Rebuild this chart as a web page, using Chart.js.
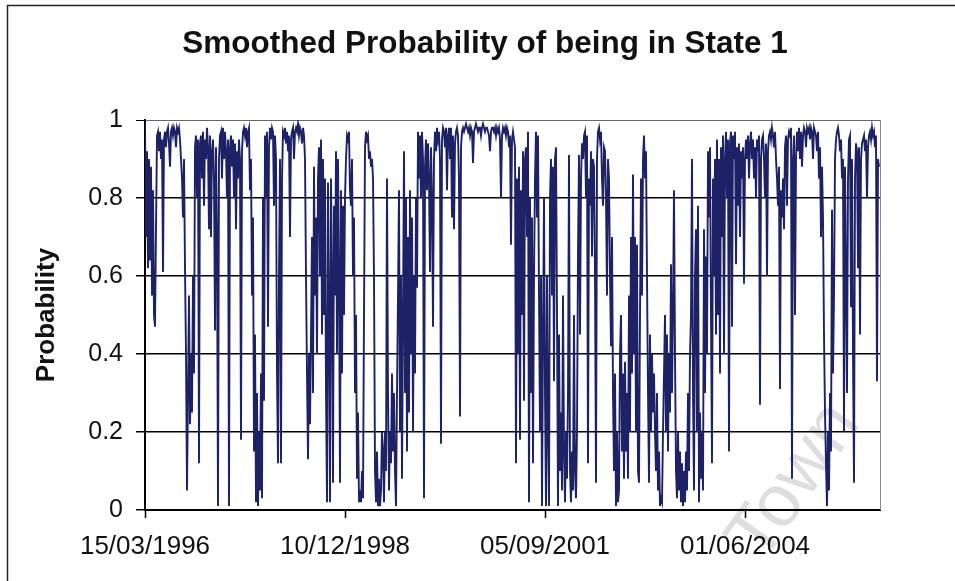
<!DOCTYPE html>
<html>
<head>
<meta charset="utf-8">
<title>Smoothed Probability of being in State 1</title>
<script src="https://cdn.jsdelivr.net/npm/chart.js@4.4.1/dist/chart.umd.min.js"></script>
<style>
  html, body { margin: 0; padding: 0; background: #fff; }
  #wrap { position: relative; width: 955px; height: 581px; overflow: hidden; }
</style>
</head>
<body>
<div id="wrap"><canvas id="probChart" width="955" height="581"></canvas></div>
<script>
const chartTitle = 'Smoothed Probability of being in State 1';
const yTitle = 'Probability';
// x axis: days since 15/03/1996, a label every 1000 days
const dateTicks = ['15/03/1996', '10/12/1998', '05/09/2001', '01/06/2004'];
const tickEveryDays = 1000;
const yTickLabels = ['0', '0.2', '0.4', '0.6', '0.8', '1'];
const sampleDays = 5;
const lastDay = 3675;

// smoothed probability, one reading every 5 days
const smoothedProb = [
  0.99,0.7,0.92,0.62,0.9,0.64,0.88,0.55,0.82,0.5,0.47,0.72,0.96,
  0.97,0.92,0.97,0.9,0.95,0.61,0.95,0.97,0.93,0.97,0.98,0.94,0.88,0.97,0.98,0.96,0.98,0.97,0.93,0.98,0.97,0.98,0.95,0.9,
  0.85,0.75,0.9,0.62,0.4,0.05,0.3,0.55,0.22,0.4,0.25,0.6,0.35,0.93,0.96,0.8,0.95,0.12,0.94,
  0.96,0.85,0.97,0.78,0.95,0.9,0.98,0.93,0.72,0.96,0.7,0.92,
  0.95,0.85,0.46,0.93,0.7,0.01,0.9,0.96,0.97,0.85,0.98,0.9,0.97,0.92,0.8,0.95,0.01,0.93,0.96,0.88,
  0.95,0.8,0.94,0.72,0.92,0.85,0.95,0.9,0.18,0.92,0.97,0.98,0.96,0.98,0.93,0.97,0.98,0.82,
  0.9,0.55,0.75,0.15,0.45,0.02,0.3,0.01,0.2,0.05,0.35,0.03,
  0.8,0.28,0.96,0.8,0.97,0.47,0.93,0.98,0.95,0.98,0.97,0.78,0.96,0.9,0.35,0.12,0.6,0.9,0.12,0.85,0.97,0.96,0.98,0.94,0.97,0.92,0.96,0.7,
  0.95,0.97,0.98,0.9,0.97,0.98,0.97,0.99,0.96,0.98,0.97,0.94,0.98,0.96,0.9,
  0.6,0.35,0.13,0.4,0.22,0.45,0.7,0.3,0.88,0.55,0.75,0.4,0.85,
  0.93,0.6,0.95,0.45,0.9,0.5,0.85,0.3,0.02,0.84,0.5,0.02,0.85,0.6,0.07,0.78,0.55,0.92,0.4,0.9,0.6,0.07,0.82,0.35,0.78,0.5,0.8,
  0.9,0.96,0.95,0.97,0.82,0.78,0.9,0.6,0.75,0.3,0.5,0.08,0.25,0.02,0.05,
  0.02,0.1,0.03,0.5,0.93,0.97,0.95,0.96,0.9,0.92,0.88,0.9,0.85,0.6,0.1,0.02,0.15,0.01,0.08,0.01,0.05,0.2,
  0.15,0.02,0.2,0.1,0.85,0.3,0.05,0.2,0.12,0.35,0.15,0.3,0.1,0.01,
  0.3,0.55,0.82,0.2,0.6,0.08,0.5,0.92,0.3,0.8,0.15,0.7,0.25,0.82,0.4,0.75,0.2,0.6,0.35,0.8,
  0.57,0.97,0.85,0.96,0.8,0.97,0.9,0.03,0.88,0.95,0.82,0.94,0.85,0.61,0.93,0.8,0.47,0.9,0.97,0.92,0.98,0.95,0.97,0.9,
  0.17,0.95,0.98,0.97,0.93,0.98,0.82,0.96,0.98,0.9,0.98,0.75,0.96,0.72,0.94,0.97,0.98,0.96,0.85,0.24,0.93,0.97,
  0.98,0.97,0.98,0.99,0.98,0.97,0.98,0.96,0.98,0.97,
  0.89,0.97,0.98,0.99,0.98,0.97,0.98,0.98,0.96,0.98,
  0.99,0.98,0.97,0.98,0.98,0.97,0.96,0.92,0.97,0.98,
  0.98,0.97,0.98,0.96,0.98,0.97,0.98,0.95,0.8,0.96,
  0.98,0.97,0.98,0.96,0.98,0.97,0.93,0.96,0.68,0.95,
  0.97,
  0.95,0.93,0.12,0.85,0.4,0.88,0.18,0.82,0.5,0.92,0.28,0.9,0.93,0.7,0.97,0.02,0.8,0.3,0.75,0.12,0.6,0.85,
  0.97,0.75,0.96,0.55,0.2,0.6,0.01,0.45,0.8,0.3,0.01,0.6,0.2,0.01,0.8,0.9,0.55,0.88,0.33,0.9,0.93,0.5,0.01,0.45,
  0.1,0.25,0.05,0.55,0.15,0.02,0.2,0.08,0.3,0.91,0.1,0.02,0.15,0.05,0.5,0.1,0.03,0.2,0.66,0.91,0.45,0.85,0.94,0.9,
  0.96,0.97,0.8,0.96,0.12,0.85,0.78,0.92,0.65,0.9,0.88,0.6,0.07,0.9,0.97,0.98,0.95,0.97,0.85,0.78,0.93,0.92,0.8,0.55,0.9,0.85,0.6,0.42,0.7,
  0.3,0.1,0.35,0.01,0.2,0.02,0.05,0.4,0.5,0.15,0.35,0.08,0.38,0.15,0.3,0.08,0.55,0.2,0.7,0.35,0.86,0.4,
  0.7,0.2,0.68,0.1,0.07,0.5,0.85,0.55,0.9,0.96,0.85,0.92,0.6,0.3,0.07,0.45,0.2,0.4,0.25,0.35,0.2,0.1,0.3,0.05,0.15,0.01,0.03,0.02,0.2,
  0.35,0.5,0.2,0.45,0.15,0.4,0.25,0.63,0.3,0.5,0.82,0.4,0.1,0.03,0.2,0.05,0.15,0.02,0.12,0.01,0.1,0.02,0.15,0.05,0.3,0.1,0.4,
  0.5,0.9,0.3,0.05,0.6,0.72,0.2,0.78,0.02,0.25,0.08,0.2,0.05,0.72,0.3,0.65,0.4,0.92,0.75,0.93,0.5,0.12,0.85,0.6,0.9,0.45,
  0.95,0.5,0.9,0.35,0.93,0.7,0.96,0.4,0.9,0.97,0.8,0.95,0.15,0.94,0.97,0.47,0.96,0.9,0.97,0.63,0.93,0.78,0.94,0.7,0.92,0.85,0.93,0.58,0.9,
  0.95,0.9,0.96,0.85,0.94,0.97,0.9,0.95,0.85,0.93,0.8,0.95,0.92,0.96,0.27,
  0.9,0.95,0.96,0.9,0.8,0.94,0.6,0.92,0.96,0.97,
  0.95,0.98,0.96,0.93,0.97,0.9,0.85,0.78,0.88,0.31,
  0.82,0.75,0.85,0.72,0.93,0.96,0.78,0.95,0.97,0.96,
  0.98,0.08,0.9,0.96,0.5,0.9,0.97,0.92,0.98,0.9,
  0.97,0.88,0.96,0.98,0.97,0.93,0.98,0.97,0.98,0.95,0.98,0.97,0.9,0.98,0.97,0.96,0.92,0.97,0.85,0.93,0.7,0.88,0.75,0.45,
  0.25,0.12,0.01,0.2,0.05,0.3,0.15,0.77,0.35,0.55,
  0.9,0.95,0.97,0.98,0.96,0.92,0.95,0.85,0.9,0.2,
  0.88,0.6,0.3,0.85,0.95,0.96,0.52,0.9,0.4,0.07,
  0.85,0.94,0.92,0.62,0.93,0.45,0.9,0.94,0.95,0.96,
  0.92,0.95,0.8,0.93,0.96,0.97,0.95,0.98,0.96,0.97,
  0.93,0.96,0.33,0.9,0.88
];

const fontFamily = '"Liberation Sans", Arial, sans-serif';

// outer frame, title, faint watermark, plot right edge
const framePlugin = {
  id: 'frame',
  beforeDraw(chart) {
    const ctx = chart.ctx;
    ctx.save();
    ctx.fillStyle = '#fff';
    ctx.fillRect(0, 0, chart.width, chart.height);
    ctx.strokeStyle = '#222';
    ctx.lineWidth = 1.5;
    ctx.strokeRect(7.5, 5.5, 956, 640);
    ctx.fillStyle = '#111';
    ctx.font = 'bold 31.5px ' + fontFamily;
    ctx.textAlign = 'center';
    ctx.textBaseline = 'middle';
    ctx.fillText(chartTitle, 485, 44);
    ctx.restore();
  },
  beforeDatasetsDraw(chart) {
    const ctx = chart.ctx;
    ctx.save();
    ctx.translate(795, 482);
    ctx.rotate(-55 * Math.PI / 180);
    ctx.font = '74px ' + fontFamily;
    ctx.fillStyle = 'rgba(0,0,0,0.13)';
    ctx.textAlign = 'center';
    ctx.textBaseline = 'middle';
    ctx.fillText('Town', 0, 0);
    ctx.restore();
  },
  afterDatasetsDraw(chart) {
    const a = chart.chartArea;
    const ctx = chart.ctx;
    ctx.save();
    ctx.strokeStyle = '#888';
    ctx.lineWidth = 1;
    ctx.beginPath();
    ctx.moveTo(a.right + 0.5, a.top);
    ctx.lineTo(a.right + 0.5, a.bottom);
    ctx.stroke();
    ctx.restore();
  }
};

new Chart(document.getElementById('probChart').getContext('2d'), {
  type: 'line',
  data: {
    datasets: [{
      label: 'Smoothed probability',
      data: smoothedProb.map((p, i) => ({ x: i * sampleDays, y: p })),
      borderColor: '#1d2266',
      borderWidth: 1.9,
      pointRadius: 0,
      tension: 0,
      fill: false
    }]
  },
  options: {
    responsive: false,
    animation: false,
    devicePixelRatio: 1,
    layout: { padding: { top: 120, right: 75, left: 0, bottom: 0 } },
    plugins: {
      legend: { display: false },
      tooltip: { enabled: false },
      title: { display: false }
    },
    scales: {
      x: {
        type: 'linear',
        min: 0,
        max: lastDay,
        afterFit: (scale) => { scale.height = 71; },
        afterBuildTicks: (scale) => {
          scale.ticks = dateTicks.map((d, i) => ({ value: i * tickEveryDays }));
        },
        border: { color: '#000', width: 2 },
        grid: { drawOnChartArea: false, drawTicks: true, tickLength: 8, tickColor: '#000', tickWidth: 1.5 },
        ticks: {
          autoSkip: false,
          maxRotation: 0,
          padding: 13,
          color: '#111',
          font: { family: fontFamily, size: 26 },
          callback: (v, i) => dateTicks[i]
        }
      },
      y: {
        min: 0,
        max: 1,
        afterFit: (scale) => { scale.width = 145; },
        border: { color: '#000', width: 2 },
        grid: {
          color: (c) => (c.tick && c.tick.value === 1 ? '#666' : '#000'),
          lineWidth: (c) => (c.tick && c.tick.value === 1 ? 1 : 1.5),
          tickLength: 9,
          tickColor: '#000'
        },
        ticks: {
          stepSize: 0.2,
          padding: 13,
          color: '#111',
          font: { family: fontFamily, size: 25 },
          callback: (v, i) => yTickLabels[i]
        },
        title: {
          display: true,
          text: yTitle,
          color: '#111',
          font: { family: fontFamily, size: 26, weight: 'bold' },
          padding: { top: 31, bottom: 0 }
        }
      }
    }
  },
  plugins: [framePlugin]
});
</script>
</body>
</html>
